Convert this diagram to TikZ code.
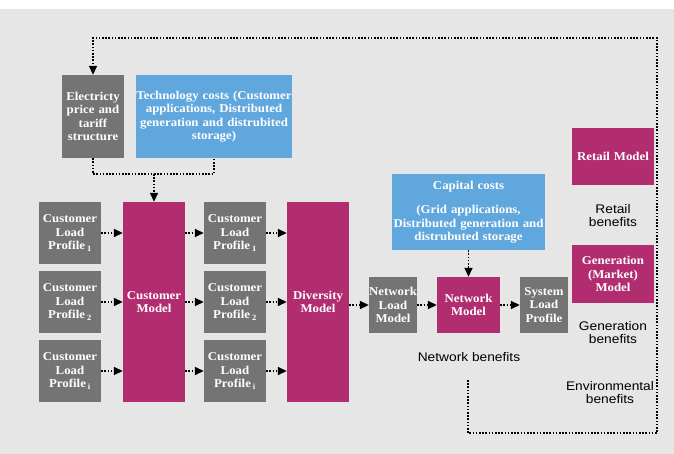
\documentclass[tikz,border=0pt]{standalone}
\usepackage{fontspec}
\setmainfont{Liberation Serif}[FakeStretch=1.07]
\newfontfamily\benfont{Liberation Sans}[FakeStretch=1.1]
\usepackage{xcolor}
\usepackage{tikz}
\usetikzlibrary{arrows.meta,positioning,calc}
\definecolor{boxgray}{RGB}{116,116,116}
\definecolor{boxmag}{RGB}{178,45,112}
\definecolor{boxblue}{RGB}{96,167,222}
\definecolor{bggray}{RGB}{230,230,230}

\begin{document}
\begin{tikzpicture}[x=1pt,y=-1pt,
	box/.style={inner sep=0pt,text=white,align=center,font=\fontsize{12}{13.5}\selectfont\bfseries},
	graybox/.style={box,fill=boxgray},
	magbox/.style={box,fill=boxmag},
	bluebox/.style={box,fill=boxblue},
	tall/.style={minimum width=62pt,minimum height=200pt,text width=62pt},
	clp/.style={graybox,minimum width=62pt,minimum height=62pt,text width=62pt},
	small/.style={minimum width=48pt,minimum height=56pt,text width=48pt},
	side/.style={minimum width=82pt,minimum height=57pt,text width=80pt},
	benefit/.style={align=center,font=\benfont\fontsize{12.5}{13}\selectfont},
	dotline/.style={line width=1.6pt,dash pattern=on 1.6pt off 1.6pt},
	myarrow/.style={dotline,-{Triangle[length=9pt,width=8pt]}}]
	\useasboundingbox (0,0) rectangle (674,454);
	\fill[white] (0,0) rectangle (674,454);
	\fill[bggray] (0,9) rectangle (674,454);
	\path
		(93,116.5) node[graybox,minimum width=62pt,minimum height=83pt,text width=62pt](elec){Electricty\\price and\\tariff\\structure}
		(214,116.5) node[bluebox,minimum width=156pt,minimum height=83pt,text width=156pt](tech){Technology costs (Customer\\applications, Distributed\\generation and distrubited\\storage)}
		(70,233) node[clp](clpa1){Customer\\Load\\Profile\,\textsubscript{1}}
		(70,302) node[clp](clpa2){Customer\\Load\\Profile\,\textsubscript{2}}
		(70,371) node[clp](clpa3){Customer\\Load\\Profile\,\textsubscript{i}}
		(154,302) node[magbox,tall](cust){Customer\\Model}
		(235,233) node[clp](clpb1){Customer\\Load\\Profile\,\textsubscript{1}}
		(235,302) node[clp](clpb2){Customer\\Load\\Profile\,\textsubscript{2}}
		(235,371) node[clp](clpb3){Customer\\Load\\Profile\,\textsubscript{i}}
		(318,302) node[magbox,tall](div){Diversity\\Model}
		(393,305) node[graybox,small](nlm){Network\\Load\\Model}
		(468.5,305) node[magbox,minimum width=63pt,minimum height=56pt,text width=63pt](net){Network\\Model}
		(544,305) node[graybox,small](slp){System\\Load\\Profile}
		(468.5,212) node[bluebox,minimum width=153pt,minimum height=76pt,text width=153pt](cap){Capital costs\\[11pt](Grid applications,\\Distributed generation and\\distrubuted storage}
		(613,156.5) node[magbox,side](retail){Retail Model}
		(613,274) node[magbox,side](gen){Generation\\(Market)\\Model}
		(469,357) node[benefit](netben){Network benefits}
		(613,216) node[benefit](retben){Retail\\benefits}
		(613,333) node[benefit](genben){Generation\\benefits}
		(610,393) node[benefit](envben){Environmental\\benefits};
	% inputs to the customer model
	\coordinate (join) at (154,174);
	\draw[dotline] (elec.south) |- (join) -| (tech.south);
	\draw[myarrow] (join) -- (cust.north);
	\foreach \r in {1,2,3}{
		\draw[myarrow] (clpa\r.east) -- (clpa\r.east -| cust.west);
		\draw[myarrow] (clpb\r.west -| cust.east) -- (clpb\r.west);
		\draw[myarrow] (clpb\r.east) -- (clpb\r.east -| div.west);
	}
	\draw[myarrow] (div.east |- nlm.west) -- (nlm.west);
	\draw[myarrow] (nlm.east) -- (net.west);
	\draw[myarrow] (net.east) -- (slp.west);
	\draw[myarrow] (cap.south) -- (net.north);
	% feedback loop
	\coordinate (loopstart) at (468,380);
	\coordinate (loopbr) at (657,433);
	\coordinate (looptr) at (657,38);
	\draw[myarrow] (loopstart) |- (loopbr) -- (looptr) -| (elec.north);
\end{tikzpicture}
\end{document}
